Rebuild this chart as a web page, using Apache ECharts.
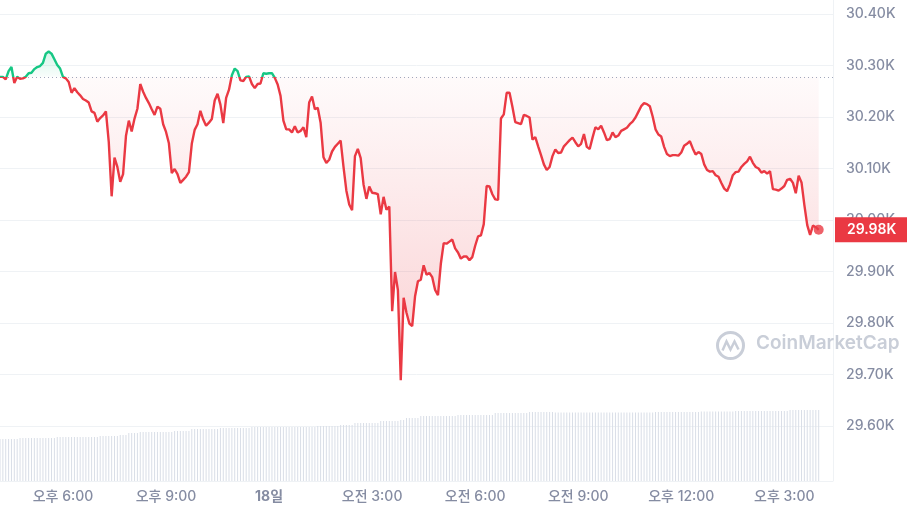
<!DOCTYPE html>
<html><head><meta charset="utf-8">
<script src="https://cdn.jsdelivr.net/npm/echarts@6/dist/echarts.min.js"></script>
<style>html,body{margin:0;padding:0;background:#fff}#c{width:907px;height:514px}</style>
</head><body><div id="c"></div>
<script>
// ---- data ----
const basePrice = 30278; // reference (24h ago) price, dotted line
const prices = [
30278,30278,30273,30289,30297,30266,30278,30274,30275,30278,
30285,30286,30293,30297,30299,30305,30323,30327,30323,30312,
30301,30294,30278,30275,30268,30247,30256,30248,30242,30235,
30232,30228,30211,30208,30191,30198,30203,30211,30151,30046,
30121,30103,30074,30089,30163,30193,30172,30197,30216,30264,
30249,30237,30227,30215,30204,30220,30216,30186,30171,30149,
30091,30099,30089,30072,30078,30084,30093,30148,30175,30186,
30212,30195,30183,30189,30196,30232,30245,30224,30188,30237,
30253,30281,30294,30289,30271,30270,30278,30279,30264,30256,
30264,30265,30285,30284,30285,30285,30276,30263,30241,30193,
30176,30176,30170,30182,30170,30173,30180,30161,30228,30240,
30215,30218,30189,30122,30111,30117,30133,30142,30148,30154,
30103,30057,30030,30019,30124,30138,30120,30069,30041,30065,
30053,30052,30050,30011,30045,30020,30026,29823,29899,29864,
29689,29849,29820,29799,29794,29852,29881,29884,29912,29894,
29897,29889,29864,29854,29915,29955,29954,29958,29962,29945,
29937,29925,29929,29929,29922,29928,29950,29968,29970,29992,
30066,30065,30050,30040,30039,30197,30205,30247,30247,30220,
30190,30188,30186,30204,30202,30199,30156,30161,30143,30126,
30108,30097,30103,30124,30137,30130,30131,30143,30149,30155,
30160,30151,30143,30148,30167,30142,30138,30160,30180,30176,
30183,30170,30155,30157,30170,30161,30164,30173,30176,30179,
30186,30191,30199,30210,30221,30227,30225,30221,30201,30176,
30166,30162,30142,30128,30124,30126,30126,30125,30131,30144,
30148,30153,30139,30127,30132,30128,30108,30097,30094,30095,
30087,30084,30072,30061,30056,30069,30087,30093,30094,30103,
30109,30114,30123,30111,30103,30100,30092,30095,30090,30095,
30060,30059,30057,30061,30066,30078,30080,30072,30052,30086,
30073,30029,29990,29971,29989,29986,29981
];
// 24h volume (relative units)
const volumes = [
42,42,42,42,42,42,42,43,43,43,
43,43,43,43,43,43,43,43,43,43,
44,44,44,44,44,44,44,44,44,44,
44,44,44,44,44,45,45,45,45,45,
45,45,46,46,46,48,48,48,48,49,
49,49,49,49,49,49,49,49,49,49,
49,50,50,50,50,50,50,52,52,52,
52,52,52,52,52,52,52,53,53,53,
53,53,53,53,53,53,53,53,54,54,
54,54,54,54,54,54,54,54,54,54,
54,54,54,54,54,54,54,54,54,54,
54,55,55,55,55,55,55,55,55,56,
56,56,56,56,58,58,58,58,58,58,
58,58,58,60,60,60,60,60,60,60,
61,61,63,63,63,63,63,65,65,65,
65,65,65,65,65,65,65,65,65,65,
66,66,66,66,66,66,66,66,66,66,
66,66,66,68,68,68,68,68,68,68,
68,68,68,68,68,69,69,69,69,69,
69,69,69,69,68.5,68.5,68.5,68.5,68.5,68.5,
68.5,68.5,68.5,68.5,68.5,68.5,68.5,68.5,68.5,68.5,
68.5,68.5,68.5,68.5,68.5,68.5,68.5,68.5,68.5,68.5,
68.5,68.5,68.5,68.5,68.5,68.5,68.5,68.5,68.5,69,
69,69,69,69,69,69,69,69,69,69,
69,69,69,69,69,69.5,69.5,69.5,69.5,69.5,
69.5,69.5,69.5,69.5,69.5,69.5,69.5,70,70,70,
70,70,70,70,70,70,70,70,70,70,
70,70,70,70,70,70,71,71,71,71,
71,71,71,71,71,71,71
];
const tickLabels = {
  '17 18:00':'오후 6:00', '17 21:00':'오후 9:00', '18 00:00':'18일',
  '18 03:00':'오전 3:00', '18 06:00':'오전 6:00', '18 09:00':'오전 9:00',
  '18 12:00':'오후 12:00', '18 15:00':'오후 3:00'
};
// 5-minute time slots from 17일 16:10 (extra empty slots at the right edge)
const times = [];
for (let i = 0; i < 292; i++) {
  const m = 16 * 60 + 10 + i * 5;
  const d = m >= 1440 ? 18 : 17;
  const mm = m % 1440;
  times.push(d + ' ' + String(Math.floor(mm / 60)).padStart(2, '0') + ':' + String(mm % 60).padStart(2, '0'));
}

// ---- chart ----
const FONT = 'Inter, "Noto Sans CJK KR", sans-serif';
const RED = '#ea3943', GREEN = '#16c784', GREY = '#858ca2', GRID = '#eff2f5';
const last = prices.length - 1;
const chart = echarts.init(document.getElementById('c'), null, {renderer: 'canvas'});
chart.setOption({
  animation: false,
  backgroundColor: '#fff',
  grid: [
    {left: 0, right: 74, top: 14, height: 412},
    {left: 0, right: 74, top: 405, bottom: 33}
  ],
  xAxis: [
    {gridIndex: 0, type: 'category', data: times, boundaryGap: false,
     axisLine: {show: false}, axisTick: {show: false}, axisLabel: {show: false}, splitLine: {show: false}},
    {gridIndex: 1, type: 'category', data: times, boundaryGap: false,
     axisLine: {lineStyle: {color: GRID}}, axisTick: {show: false}, splitLine: {show: false},
     axisLabel: {
       interval: (idx, val) => Object.prototype.hasOwnProperty.call(tickLabels, val),
       formatter: v => tickLabels[v] === '18일' ? '{b|18일}' : (tickLabels[v] || ''),
       color: GREY, fontSize: 14, fontFamily: FONT, fontWeight: 500, margin: 9,
       rich: {b: {color: GREY, fontSize: 14, fontFamily: FONT, fontWeight: 700}}
     }}
  ],
  yAxis: [
    {gridIndex: 0, type: 'value', position: 'right', min: 29600, max: 30400, interval: 100,
     axisLine: {show: false}, axisTick: {show: false},
     splitLine: {lineStyle: {color: GRID}},
     axisLabel: {margin: 13, color: GREY, fontSize: 14, fontWeight: 500, fontFamily: FONT,
       formatter: v => (v / 1000).toFixed(2) + 'K'}},
    {gridIndex: 1, type: 'value', min: 0, max: 76, show: false}
  ],
  graphic: [
    {type: 'line', silent: true, z: 0, shape: {x1: 833.5, y1: 0, x2: 833.5, y2: 481}, style: {stroke: GRID, lineWidth: 1}},
    {type: 'group', left: 715, top: 330, z: 0, silent: true, children: [
      {type: 'circle', shape: {cx: 15, cy: 15, r: 13}, style: {fill: 'none', stroke: '#c9ced8', lineWidth: 3}},
      {type: 'polyline', shape: {points: [[7, 20], [11, 11], [15, 19], [19, 11], [23, 19]]}, style: {fill: 'none', stroke: '#c9ced8', lineWidth: 2.5}}
    ]},
    {type: 'text', left: 756, top: 334, z: 0, silent: true,
     style: {text: 'CoinMarketCap', fill: '#c9ced8', font: '600 19px ' + FONT}}
  ],
  series: [
    {type: 'line', xAxisIndex: 0, yAxisIndex: 0, silent: true, symbol: 'none',
     data: prices.map(v => Math.max(v, basePrice)), lineStyle: {width: 0},
     areaStyle: {origin: basePrice, color: new echarts.graphic.LinearGradient(0, 0, 0, 1, [
       {offset: 0, color: 'rgba(22,199,132,0.25)'}, {offset: 1, color: 'rgba(22,199,132,0.04)'}])}},
    {type: 'line', xAxisIndex: 0, yAxisIndex: 0, silent: true, symbol: 'none',
     data: prices.map(v => Math.min(v, basePrice)), lineStyle: {width: 0},
     areaStyle: {origin: basePrice, color: new echarts.graphic.LinearGradient(0, 0, 0, 1, [
       {offset: 0, color: 'rgba(234,57,67,0.03)'}, {offset: 1, color: 'rgba(234,57,67,0.34)'}])}},
    {id: 'priceLine', type: 'line', xAxisIndex: 0, yAxisIndex: 0, symbol: 'none', z: 5, data: prices,
     lineStyle: {width: 2.4, color: RED}, silent: true,
     markLine: {silent: true, symbol: 'none', animation: false, data: [
       {yAxis: basePrice, lineStyle: {type: [1, 3], color: '#a1a7bb', width: 1}, label: {show: false}}
     ]}},
    {type: 'scatter', xAxisIndex: 0, yAxisIndex: 0, z: 6, silent: true,
     data: [[last, prices[last]]], symbolSize: 10, itemStyle: {color: RED},
     markLine: {silent: true, symbol: 'none', animation: false, data: [
       {yAxis: prices[last], lineStyle: {color: 'rgba(0,0,0,0)', width: 0}, label: {
         show: true, position: 'end', distance: 2, formatter: () => (prices[last] / 1000).toFixed(2) + 'K',
         backgroundColor: RED, color: '#fff', fontSize: 14, fontWeight: 600, fontFamily: FONT,
         lineHeight: 17, padding: [4, 11, 4, 12]}}
     ]}},
    {type: 'bar', xAxisIndex: 1, yAxisIndex: 1, data: volumes, barWidth: 1, silent: true,
     itemStyle: {color: '#d9dee7'}}
  ]
});
// colour the line green above the reference price, red below (hard stop at baseline pixel)
const baseY = chart.convertToPixel({yAxisIndex: 0}, basePrice);
const H = 514, off = baseY / H;
chart.setOption({series: [{id: 'priceLine', lineStyle: {color: new echarts.graphic.LinearGradient(0, 0, 0, H, [
  {offset: 0, color: GREEN}, {offset: off, color: GREEN}, {offset: off, color: RED}, {offset: 1, color: RED}], true)}}]});
</script>
</body></html>
